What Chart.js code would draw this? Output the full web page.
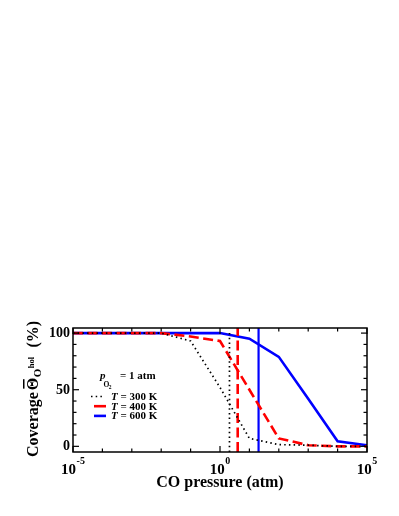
<!DOCTYPE html>
<html><head><meta charset="utf-8">
<script src="https://cdn.jsdelivr.net/npm/chart.js@4.4.1/dist/chart.umd.min.js"></script>
<style>html,body{margin:0;padding:0;background:#fff;} canvas{display:block;}</style>
</head><body>
<canvas id="c" width="399" height="516"></canvas>
<script>
// ---- data ----
const pressures      = [1e-5, 1e-4, 1e-3, 1e-2, 1e-1, 1, 10, 100, 1e3, 1e4, 1e5];
const coverage300K   = [100, 100, 100, 100, 93, 52, 7, 1.5, 1, 0, 0];
const coverage400K   = [100, 100, 100, 100, 97, 93, 50, 7, 1, 0, 0];
const coverage600K   = [100, 100, 100, 100, 100, 100, 95, 79, 42, 4.4, 0.9];
const criticalP300K  = 2.1;
const criticalP400K  = 4.0;
const criticalP600K  = 20.5;
const seriesTemps    = ['300', '400', '600'];
const xMajorExponents = [-5, 0, 5];
const yTickValues    = [0, 50, 100];
const yMinorValues   = [0, 10, 20, 30, 40, 50, 60, 70, 80, 90, 100];
const Y_MIN = -5, Y_MAX = 104.5;

const FONT = '"Liberation Serif", "Times New Roman", serif';
const toPts = (xs, ys) => xs.map((v, i) => ({x: v, y: ys[i]}));
const vline = (xv, y0, y1) => [{x: xv, y: y0}, {x: xv, y: y1}];

const styles = [
  {color: '#000000', width: 1.7, dash: [1.5, 3.2]},
  {color: '#ff0000', width: 2.6, dash: [10, 4.5]},
  {color: '#0000ff', width: 2.6, dash: []}
];

const datasets = [
  {label: 'T = 300 K', data: toPts(pressures, coverage300K), borderColor: styles[0].color, borderWidth: styles[0].width, borderDash: styles[0].dash},
  {label: 'v300', data: vline(criticalP300K, Y_MIN, 102), borderColor: styles[0].color, borderWidth: styles[0].width, borderDash: styles[0].dash},
  {label: 'T = 400 K', data: toPts(pressures, coverage400K), borderColor: styles[1].color, borderWidth: styles[1].width, borderDash: styles[1].dash},
  {label: 'v400', data: vline(criticalP400K, Y_MIN, Y_MAX), borderColor: styles[1].color, borderWidth: styles[1].width, borderDash: styles[1].dash},
  {label: 'T = 600 K', data: toPts(pressures, coverage600K), borderColor: styles[2].color, borderWidth: styles[2].width, borderDash: styles[2].dash},
  {label: 'v600', data: vline(criticalP600K, Y_MIN, Y_MAX), borderColor: styles[2].color, borderWidth: 2.2, borderDash: []}
].map(d => Object.assign(d, {showLine: true, pointRadius: 0, tension: 0, fill: false, borderCapStyle: 'butt'}));

const deco = {
  id: 'deco',
  afterDraw(chart) {
    const {ctx, chartArea: a, scales: {x, y}} = chart;
    const ln = (x0, y0, x1, y1) => { ctx.beginPath(); ctx.moveTo(x0, y0); ctx.lineTo(x1, y1); ctx.stroke(); };
    ctx.save();
    ctx.strokeStyle = '#000'; ctx.fillStyle = '#000'; ctx.lineWidth = 1.5; ctx.setLineDash([]);
    ctx.strokeRect(a.left, a.top, a.right - a.left, a.bottom - a.top);
    ctx.lineWidth = 1.2;
    // x ticks (every decade)
    pressures.forEach(p => {
      const px = x.getPixelForValue(p);
      const e = Math.round(Math.log10(p));
      const len = xMajorExponents.includes(e) ? 6 : 3.5;
      ln(px, a.bottom, px, a.bottom - len);
      ln(px, a.top, px, a.top + len);
    });
    // y ticks
    yMinorValues.forEach(v => {
      const py = y.getPixelForValue(v);
      const len = yTickValues.includes(v) ? 6 : 3.5;
      ln(a.left, py, a.left + len, py);
      ln(a.right, py, a.right - len, py);
    });
    // y tick labels
    ctx.font = 'bold 14px ' + FONT;
    ctx.textAlign = 'right'; ctx.textBaseline = 'middle';
    yTickValues.forEach(v => ctx.fillText(String(v), a.left - 3, y.getPixelForValue(v) + 0.5));
    // x tick labels 10^e
    ctx.textBaseline = 'alphabetic'; ctx.textAlign = 'left';
    xMajorExponents.forEach(e => {
      const px = x.getPixelForValue(Math.pow(10, e));
      ctx.font = 'bold 15px ' + FONT;
      const bw = ctx.measureText('10').width;
      ctx.font = 'bold 10px ' + FONT;
      const es = e < 0 ? '-' + Math.abs(e) : String(e);
      const ew = ctx.measureText(es).width;
      const x0 = px - (bw + ew + 0.5) / 2;
      ctx.font = 'bold 15px ' + FONT;
      ctx.fillText('10', x0, 473.5);
      ctx.font = 'bold 10px ' + FONT;
      ctx.fillText(es, x0 + bw + 0.5, 464);
    });
    // x title
    ctx.font = 'bold 16px ' + FONT;
    ctx.textAlign = 'center';
    ctx.fillText('CO pressure (atm)', (a.left + a.right) / 2, 487);
    // y title (rotated)
    ctx.save();
    ctx.translate(37.5, 457);
    ctx.rotate(-Math.PI / 2);
    ctx.textAlign = 'left';
    ctx.font = 'bold 16px ' + FONT;
    ctx.fillText('Coverage', 0, 0);
    let cx = ctx.measureText('Coverage').width + 2;
    ctx.fillText('\u0398', cx, 0);
    const tw = ctx.measureText('\u0398').width;
    ctx.fillRect(cx + 1.5, -14.5, tw - 3, 1.5);
    cx += tw + 0.5;
    ctx.font = 'bold 11px ' + FONT;
    ctx.fillText('O', cx, 3.5);
    cx += ctx.measureText('O').width + 0.5;
    ctx.font = 'bold 8.5px ' + FONT;
    ctx.fillText('hol', cx, -3.5);
    ctx.font = 'bold 16px ' + FONT;
    ctx.fillText('(%)', 109.5, 0);
    ctx.restore();
    // legend header p_O2 = 1 atm
    ctx.textAlign = 'left';
    ctx.font = 'bold italic 11px ' + FONT;
    ctx.fillText('p', 100, 379);
    ctx.font = 'bold 7.5px ' + FONT;
    ctx.fillText('O', 103.5, 387);
    ctx.font = 'bold 5.5px ' + FONT;
    ctx.fillText('2', 108.8, 389);
    ctx.font = 'bold 11px ' + FONT;
    ctx.fillText('= 1 atm', 120, 379);
    // legend entries
    seriesTemps.forEach((t, i) => {
      const yy = 396.5 + i * 9.7;
      const s = styles[i];
      ctx.save();
      ctx.strokeStyle = s.color; ctx.lineWidth = s.width;
      if (i === 0) { ctx.setLineDash(s.dash); ln(91, yy, 102, yy); }
      else { ctx.setLineDash([]); ln(94, yy, 106, yy); }
      ctx.restore();
      ctx.textBaseline = 'middle';
      ctx.font = 'bold italic 11px ' + FONT;
      ctx.fillText('T', 111, yy + 0.5);
      const w = ctx.measureText('T').width;
      ctx.font = 'bold 11px ' + FONT;
      ctx.fillText(' = ' + t + ' K', 111 + w, yy + 0.5);
    });
    ctx.restore();
  }
};

new Chart(document.getElementById('c'), {
  type: 'scatter',
  data: {datasets},
  options: {
    responsive: false, animation: false, devicePixelRatio: 1,
    layout: {padding: {left: 73, right: 32, top: 328, bottom: 64}},
    plugins: {legend: {display: false}, tooltip: {enabled: false}},
    scales: {
      x: {type: 'logarithmic', min: 1e-5, max: 1e5, display: false},
      y: {type: 'linear', min: Y_MIN, max: Y_MAX, display: false}
    }
  },
  plugins: [deco]
});
</script>
</body></html>
